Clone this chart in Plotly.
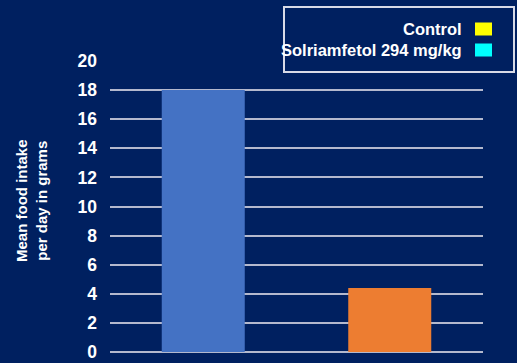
import plotly.graph_objects as go

# Data
groups = ["Control", "Solriamfetol 294 mg/kg"]
mean_intake = [18.0, 4.4]
bar_colors = ["#4472C4", "#ED7D31"]
legend_swatch_colors = ["#FFFF00", "#00FFFF"]
y_ticks = [0, 2, 4, 6, 8, 10, 12, 14, 16, 18, 20]

W, H = 517, 363
L, R, T, B = 110, 34, 61, 11
BG = "#002060"
FONT = "Liberation Sans, Arial, sans-serif"


def px(x):
    return (x - L) / (W - L - R)


def py(y):
    return (H - B - y) / (H - T - B)


fig = go.Figure(
    go.Bar(
        x=groups,
        y=mean_intake,
        marker=dict(color=bar_colors, line=dict(width=0)),
        showlegend=False,
        hoverinfo="x+y",
    )
)

shapes = [
    # legend frame
    dict(type="rect", xref="paper", yref="paper",
         x0=px(284), x1=px(514), y0=py(72), y1=py(7),
         fillcolor=BG, line=dict(color="#D8DAE6", width=2), layer="above"),
]
annotations = [
    dict(text="Mean food intake<br>per day in grams", xref="paper", yref="paper",
         x=px(31), y=py(201), textangle=-90, showarrow=False,
         font=dict(family=FONT, size=15, color="white", weight="bold"),
         xanchor="center", yanchor="middle"),
]
legend_rows_y = [29, 50]
for name, col, yy in zip(groups, legend_swatch_colors, legend_rows_y):
    shapes.append(dict(type="rect", xref="paper", yref="paper",
                       x0=px(475), x1=px(492), y0=py(yy + 6.5), y1=py(yy - 6.5),
                       fillcolor=col, line=dict(width=0), layer="above"))
    annotations.append(dict(text=name, xref="paper", yref="paper",
                            x=px(464), y=py(yy), showarrow=False,
                            xanchor="right", yanchor="middle",
                            font=dict(family=FONT, size=16.5, color="white", weight="bold")))

fig.update_layout(
    width=W, height=H,
    margin=dict(l=L, r=R, t=T, b=B, pad=0, autoexpand=False),
    paper_bgcolor=BG, plot_bgcolor=BG,
    bargap=0.555,
    font=dict(family=FONT, color="white"),
    xaxis=dict(showticklabels=False, showgrid=False, zeroline=False,
               showline=False, fixedrange=True, automargin=False),
    yaxis=dict(range=[0, 20], tickvals=y_ticks, showgrid=True, automargin=False,
               gridcolor="#B4B9CE", gridwidth=1.5, zeroline=True,
               zerolinecolor="#B4B9CE", zerolinewidth=1.5, showline=False,
               ticklabelstandoff=12,
               tickfont=dict(family=FONT, size=17.5, color="white", weight="bold")),
    shapes=shapes,
    annotations=annotations,
)

fig.write_html("out.html")
